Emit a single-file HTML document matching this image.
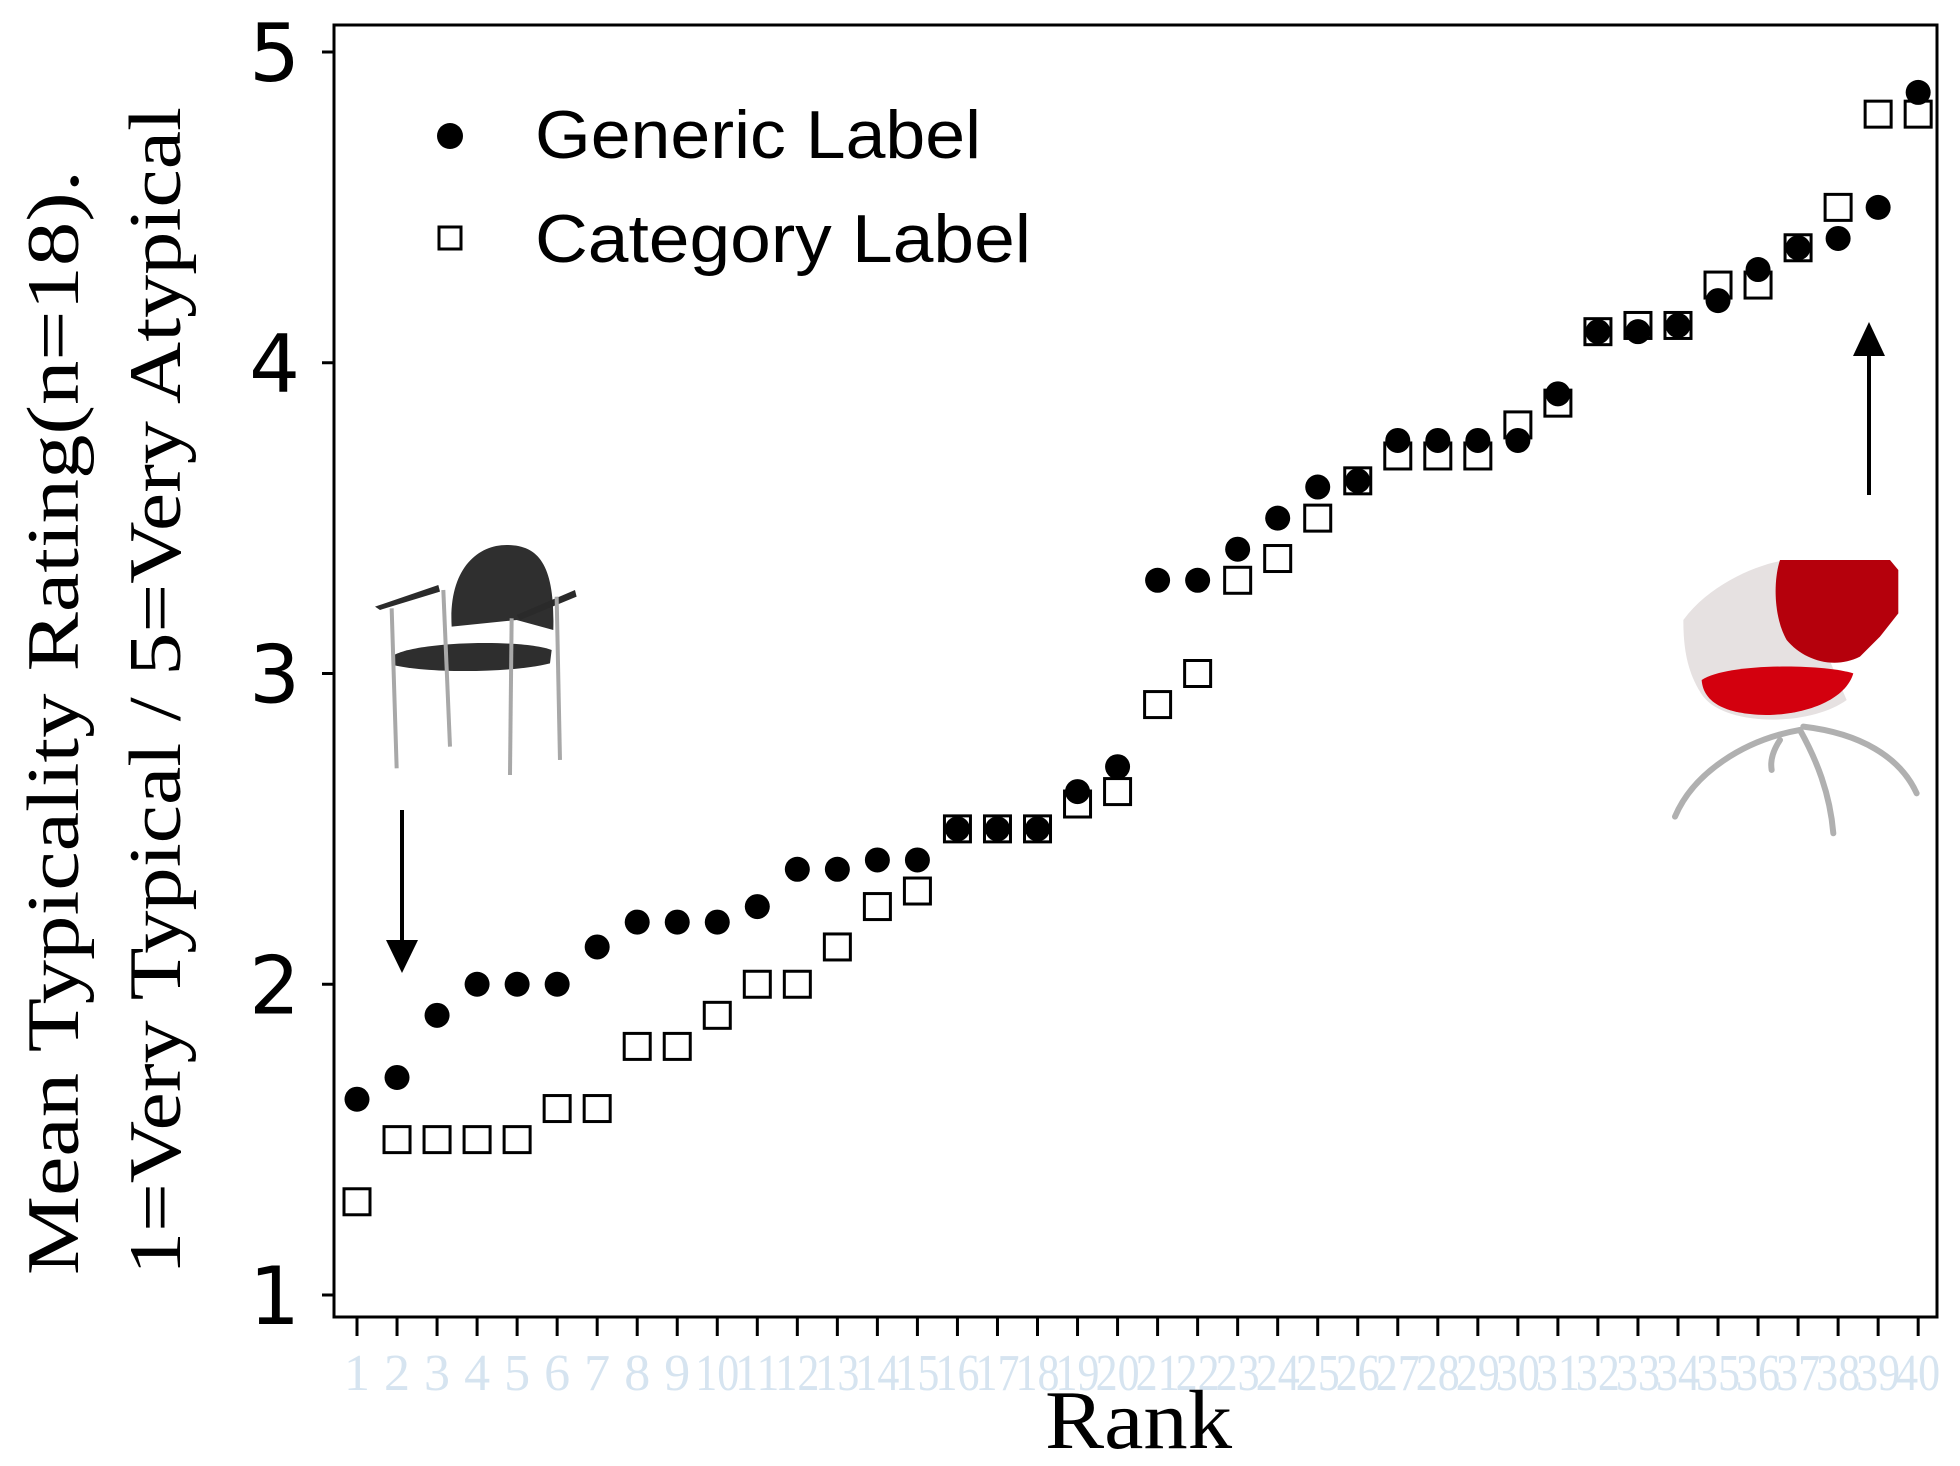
<!DOCTYPE html>
<html><head><meta charset="utf-8"><style>
html,body{margin:0;padding:0;background:#fff;}
svg{display:block;}
</style></head><body>
<svg id="chart" width="1960" height="1466" viewBox="0 0 1960 1466" xmlns="http://www.w3.org/2000/svg">
<rect width="1960" height="1466" fill="#fff"/>
<g id="axes"></g>
<g id="ticks"></g>
<g id="marks"></g>
<text transform="translate(78,1275) rotate(-90)" font-family="Liberation Serif, serif" font-size="74" textLength="1105" lengthAdjust="spacingAndGlyphs">Mean Typicality Rating(n=18).</text>
<text transform="translate(180,1275) rotate(-90)" font-family="Liberation Serif, serif" font-size="74" textLength="1168" lengthAdjust="spacingAndGlyphs">1=Very Typical / 5=Very Atypical</text>
<text x="1045" y="1448" font-family="Liberation Serif, serif" font-size="84" textLength="187" lengthAdjust="spacingAndGlyphs">Rank</text>
<g>
<circle cx="450" cy="136" r="13" fill="#000"/>
<text x="535" y="158" font-family="Liberation Sans, sans-serif" font-size="68" textLength="446" lengthAdjust="spacingAndGlyphs">Generic Label</text>
<rect x="439" y="227" width="22" height="22" fill="#fff" stroke="#000" stroke-width="3"/>
<text x="535" y="262" font-family="Liberation Sans, sans-serif" font-size="68" textLength="496" lengthAdjust="spacingAndGlyphs">Category Label</text>
</g>
<g>
<line x1="402" y1="810" x2="402" y2="945" stroke="#000" stroke-width="4"/>
<polygon points="386,940 418,940 402,973" fill="#000"/>
</g>
<g>
<line x1="1869" y1="495" x2="1869" y2="350" stroke="#000" stroke-width="4"/>
<polygon points="1853,356 1885,356 1869,322" fill="#000"/>
</g>
<g transform="translate(360,530) scale(0.3333)">
<path d="M275,290 C265,120 350,45 440,45 C540,45 585,110 580,300 L470,270 Z" fill="#2f2f2f"/>
<path d="M45,230 L235,165 L240,185 L60,240 Z" fill="#2a2a2a"/>
<path d="M470,255 L645,180 L650,200 L480,270 Z" fill="#2a2a2a"/>
<path d="M95,380 C150,335 480,325 575,360 L570,400 C450,430 200,430 100,405 Z" fill="#2e2e2e"/>
<g stroke="#a8a8a8" stroke-width="12" fill="none">
<line x1="95" y1="235" x2="110" y2="715"/>
<line x1="250" y1="180" x2="270" y2="650"/>
<line x1="455" y1="265" x2="450" y2="735"/>
<line x1="590" y1="200" x2="600" y2="690"/>
</g>
</g>
<g transform="translate(1660,540) scale(0.3333)">
<path d="M70,240 C150,130 300,70 380,60 L560,480 C450,560 200,560 130,470 C80,400 70,320 70,240 Z" fill="#e6e1e1"/>
<path d="M360,60 L690,60 L715,90 L715,220 L660,290 L600,350 C520,390 430,360 380,300 C340,230 340,120 360,60 Z" fill="#b5000c"/>
<path d="M125,420 C200,370 480,370 580,400 C560,470 460,520 330,525 C200,525 130,490 125,420 Z" fill="#d3000e"/>
<g stroke="#b0b0b0" stroke-width="18" fill="none" stroke-linecap="round">
<path d="M420,570 C250,600 100,700 45,830"/>
<path d="M430,560 C600,580 720,650 770,760"/>
<path d="M420,570 C470,660 510,760 520,880"/>
<path d="M360,600 C340,630 330,660 335,690"/>
</g>
</g>
</svg>
<script>
const ranks = [];
for (let i = 1; i <= 40; i++) ranks.push(i);
const genericValues = [1.63,1.7,1.9,2.0,2.0,2.0,2.12,2.2,2.2,2.2,2.25,2.37,2.37,2.4,2.4,2.5,2.5,2.5,2.62,2.7,3.3,3.3,3.4,3.5,3.6,3.62,3.75,3.75,3.75,3.75,3.9,4.1,4.1,4.12,4.2,4.3,4.37,4.4,4.5,4.87];
const categoryValues = [1.3,1.5,1.5,1.5,1.5,1.6,1.6,1.8,1.8,1.9,2.0,2.0,2.12,2.25,2.3,2.5,2.5,2.5,2.58,2.62,2.9,3.0,3.3,3.37,3.5,3.62,3.7,3.7,3.7,3.8,3.87,4.1,4.12,4.12,4.25,4.25,4.37,4.5,4.8,4.8];
const yTicks = [1,2,3,4,5];

const NS = 'http://www.w3.org/2000/svg';
const X0 = 357, DX = 40.03;
const xS = r => X0 + (r - 1) * DX;
const yS = v => 1295 - (v - 1) * 310.75;
function mk(tag, attrs, parent) {
  const e = document.createElementNS(NS, tag);
  for (const k in attrs) e.setAttribute(k, attrs[k]);
  parent.appendChild(e);
  return e;
}
const axes = document.getElementById('axes');
const ticks = document.getElementById('ticks');
const marks = document.getElementById('marks');
const frame = mk('path', {d:'M334,25 L1937,25 L1937,1317 L334,1317 Z', fill:'none', stroke:'#000', 'stroke-width':3}, axes);



yTicks.forEach(v => {
  const t = mk('line', {x1:322, x2:334, y1:yS(v), y2:yS(v), stroke:'#000', 'stroke-width':3}, ticks);
  
  
  const l = mk('text', {x:300, y:yS(v)+29, 'text-anchor':'end', 'font-family':'DejaVu Sans, sans-serif', 'font-size':80}, ticks);
  
  
  l.textContent = v;
});
ranks.forEach(r => {
  const t = mk('line', {x1:xS(r), x2:xS(r), y1:1317, y2:1336, stroke:'#000', 'stroke-width':3}, ticks);
  
  
  const l = mk('text', {x:xS(r), y:1390, 'text-anchor':'middle', 'font-family':'Liberation Serif, serif', 'font-size':52, fill:'#d6e4f0'}, ticks);
  
  
  if (r >= 10) { l.setAttribute('textLength', 44); l.setAttribute('lengthAdjust', 'spacingAndGlyphs'); }
  l.textContent = r;
});
ranks.forEach((r, i) => {
  const s = mk('rect', {x:xS(r)-13, y:yS(categoryValues[i])-13, width:26, height:26, fill:'#fff', stroke:'#000', 'stroke-width':3}, marks);
  
  
});
ranks.forEach((r, i) => {
  const c = mk('circle', {cx:xS(r), cy:yS(genericValues[i]), r:12.5, fill:'#000'}, marks);
  
  
});
</script>
</body></html>
